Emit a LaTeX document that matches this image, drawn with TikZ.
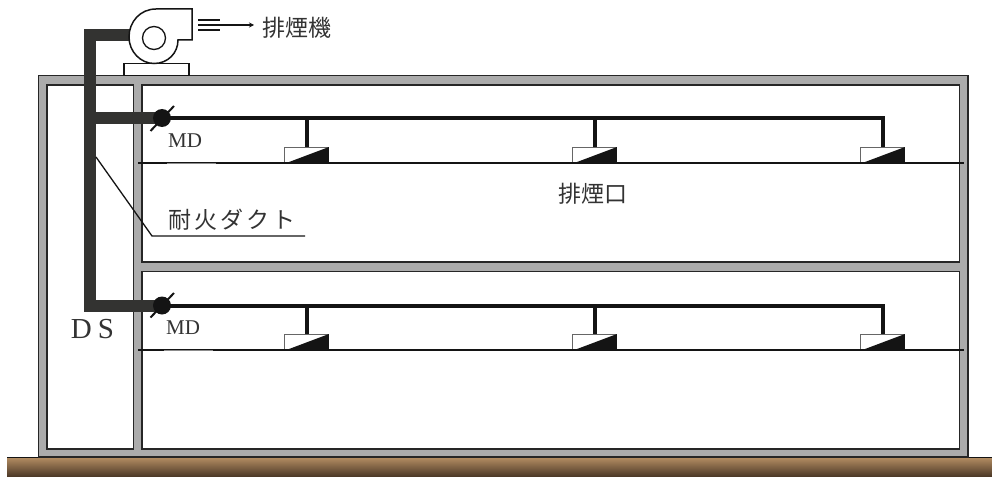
\documentclass[tikz,border=0pt]{standalone}
\usepackage{fontspec}
\setmainfont{Liberation Serif}
\newfontfamily\jp{Noto Sans CJK JP}[Scale=1]
\usetikzlibrary{arrows.meta,calc}
\definecolor{wallgray}{HTML}{ABABAB}
\definecolor{edge}{HTML}{262626}
\definecolor{ductc}{HTML}{333331}
\definecolor{inkc}{HTML}{141414}
\definecolor{txt}{HTML}{333333}
\definecolor{groundtop}{HTML}{B08A60}
\definecolor{groundbot}{HTML}{4E3A28}
\tikzset{
  room/.style={draw=edge,line width=1.4pt,fill=white},
  wall/.style={draw=edge,line width=1.4pt,fill=wallgray},
  duct/.style={draw=ductc,line width=12pt,line join=miter},
  pipe/.style={draw=inkc,line width=4pt,line join=miter},
  ceil/.style={draw=inkc,line width=1.4pt},
  thin line/.style={draw=inkc,line width=1.3pt},
  jptext/.style={font=\jp\fontsize{23}{23}\selectfont,text=txt,inner sep=0pt},
  mdtext/.style={font=\fontsize{21}{21}\selectfont,text=txt,inner sep=0pt},
  fanpart/.style={draw=inkc,line width=1.5pt,fill=white},
  damper/.style={circle,fill=inkc,minimum size=18pt,inner sep=0pt},
  diffbox/.style={draw=black!60,line width=.9pt,fill=white,minimum width=44pt,minimum height=16pt,inner sep=0pt}
}
\newcommand{\diffuser}[3]{%
  \node[diffbox,anchor=north west] (#1) at (#2,#3) {};
  \fill[inkc] (#1.south west) -- (#1.north east) -- (#1.south east) -- cycle;
}
\begin{document}
\begin{tikzpicture}[x=1pt,y=-1pt]
\useasboundingbox (0,0) rectangle (992,476);
% ground
\shade[top color=groundtop,bottom color=groundbot] (7,458) rectangle (992,476);
\draw[draw=inkc,line width=1.4pt] (7,457.5) -- (992,457.5);
% building
\draw[wall] (38.5,75.5) rectangle (968,457);
\draw[room] (47,85) rectangle (133.5,449);
\draw[room] (142,85) rectangle (959.5,262);
\draw[room] (142,271.5) rectangle (959.5,449);
% fan base
\node[fanpart,anchor=north west,minimum width=65pt,minimum height=12pt,inner sep=0pt] (base) at (123,63) {};
% ducts
\coordinate (fanin) at (132,35.5);
\coordinate (corner) at (90,35.5);
\coordinate (lowcorner) at (90,305.5);
\coordinate (d1c) at (162,118);
\coordinate (d2c) at (162,305.5);
\coordinate (tee) at (90,118);
\draw[duct] (fanin) -- (corner) -- (lowcorner) -- (d2c);
\draw[duct] (tee) -- (d1c);
\node[damper] (d1) at (d1c) {};
\node[damper] (d2) at (d2c) {};
% fan
\draw[fanpart] (192,9) -- (156,9)
  .. controls (140,9) and (129,22) .. (129,37)
  .. controls (129,52) and (141,63.5) .. (154,63.5)
  .. controls (168,63.5) and (178,53) .. (178,40)
  -- (192,40) -- cycle;
\node[circle,draw=inkc,line width=1.3pt,fill=white,minimum size=23pt,inner sep=0pt] (fanhub) at (154,38) {};
% exhaust
\coordinate (ex1a) at (198,20); \coordinate (ex1b) at (220,20);
\coordinate (ex2a) at (198,25); \coordinate (ex2b) at (220,25);
\coordinate (ex3a) at (198,30); \coordinate (ex3b) at (220,30);
\draw[thin line] (ex1a) -- (ex1b);
\draw[thin line] (ex3a) -- (ex3b);
\node[jptext,anchor=west] (fanlabel) at (262,28) {排煙機};
\coordinate (arrowend) at (254,25);
\draw[thin line,-{Stealth[length=5pt,width=5pt]}] (ex2a) -- (arrowend);
% upper run
\coordinate (end1) at (883,118);
\coordinate (end2) at (883,305.5);
% diffusers
\diffuser{u1}{284}{147}
\diffuser{u2}{572}{147}
\diffuser{u3}{860}{147}
\diffuser{l1}{284}{334}
\diffuser{l2}{572}{334}
\diffuser{l3}{860}{334}
\draw[pipe] (d1.center) -- (end1) -- (end1 |- u3.north);
\draw[pipe] (d2.center) -- (end2) -- (end2 |- l3.north);
\foreach \n/\xx in {u1/306.5,u2/594.5} \draw[pipe] (\xx,118) -- (\xx,147);
\foreach \n/\xx in {l1/306.5,l2/594.5} \draw[pipe] (\xx,305.5) -- (\xx,334);
% damper blades
\draw[inkc,line width=2pt] (150.5,131) -- (174,106);
\draw[inkc,line width=2pt] (150.5,317.5) -- (174,293);
% ceilings
\coordinate (c1a) at (138,163); \coordinate (c1b) at (964,163);
\coordinate (c2a) at (138,350); \coordinate (c2b) at (964,350);
\draw[ceil] (c1a) -- (c1b);
\draw[ceil] (c2a) -- (c2b);
% MD
\node[mdtext] (md1) at (185,141) {MD};
\node[mdtext] (md2) at (183,328) {MD};
\draw[draw=black!45,line width=1.2pt] (167,163.5) -- (216,163.5);
\draw[draw=black!45,line width=1.2pt] (164,350.5) -- (213,350.5);
% labels
\node[jptext,anchor=west] (smoke) at (558,194) {排煙口};
\node[jptext,anchor=west] (fire) at (168,220) {耐\hspace{3pt}火\hspace{3pt}ダ\hspace{3pt}ク\hspace{3pt}ト};
\node[font=\fontsize{29}{29}\selectfont,text=txt,inner sep=0pt] (ds) at (92.5,329) {D\hspace{6pt}S};
\coordinate (lead0) at (96,157);
\coordinate (lead1) at (152,236);
\coordinate (lead2) at (305,236);
\draw[thin line] (lead0) -- (lead1) -- (lead2);
\end{tikzpicture}
\end{document}
